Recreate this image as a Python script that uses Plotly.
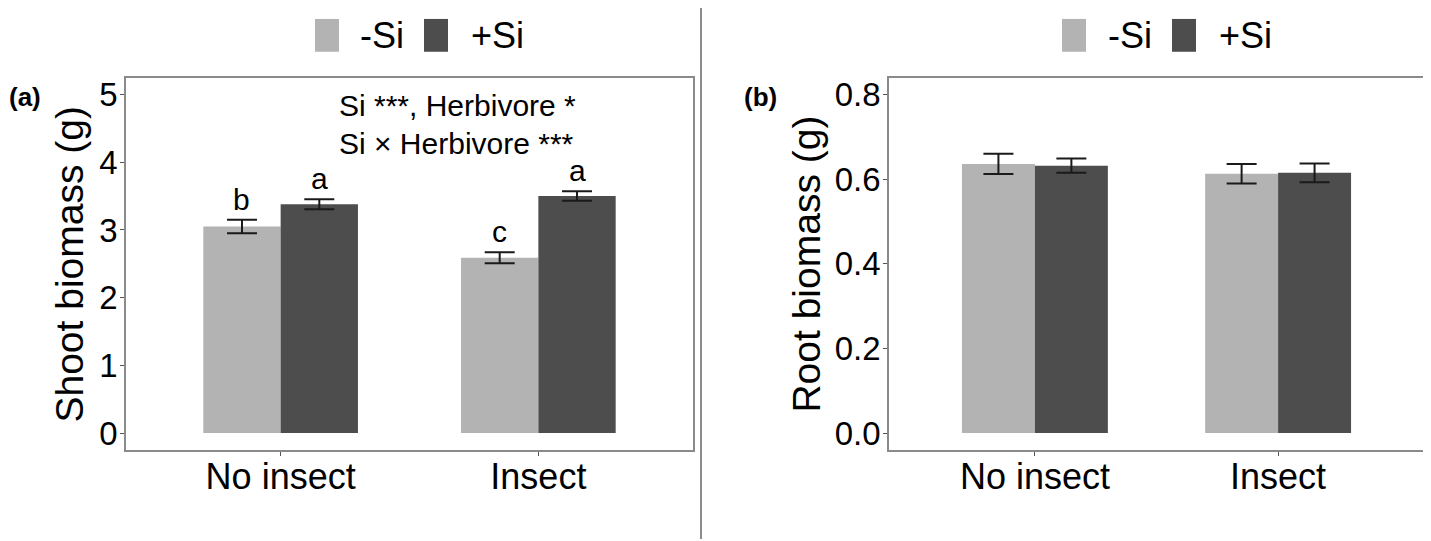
import plotly.graph_objects as go

# data
treatments = ["No insect", "Insect"]
si_levels = ["-Si", "+Si"]

shoot_minus_si = [3.05, 2.59]
shoot_minus_si_se = [0.10, 0.08]
shoot_plus_si = [3.38, 3.50]
shoot_plus_si_se = [0.075, 0.07]
shoot_letters_minus = ["b", "c"]
shoot_letters_plus = ["a", "a"]

root_minus_si = [0.636, 0.613]
root_minus_si_se = [0.024, 0.023]
root_plus_si = [0.632, 0.615]
root_plus_si_se = [0.017, 0.022]

shoot_ticks = [0, 1, 2, 3, 4, 5]
root_ticks = [0.0, 0.2, 0.4, 0.6, 0.8]

stats_lines = ["Si ***, Herbivore *", "Si × Herbivore ***"]

LIGHT = "#b3b3b3"
DARK = "#4d4d4d"
FONT = "Liberation Sans, Arial, sans-serif"
PAGE_W, PAGE_H = 1431, 541
OFF = 8  # default body margin of the html page
W, H = PAGE_W - OFF, PAGE_H - OFF
BAR_OFFSET = 0.15  # half of a 0.3-wide dodged bar


def px_x(px):
    return (px - OFF) / W


def px_y(py):
    return 1 - (py - OFF) / H


def err(arr):
    return dict(type="data", array=arr, color="#1a1a1a", thickness=2, width=15)


fig = go.Figure()

panels = [
    ("x", "y", shoot_minus_si, shoot_minus_si_se, shoot_plus_si, shoot_plus_si_se),
    ("x2", "y2", root_minus_si, root_minus_si_se, root_plus_si, root_plus_si_se),
]
for xa, ya, m_minus, se_minus, m_plus, se_plus in panels:
    fig.add_trace(go.Bar(
        x=treatments, y=m_minus, name=si_levels[0],
        marker=dict(color=LIGHT, line=dict(width=0)),
        error_y=err(se_minus), xaxis=xa, yaxis=ya, showlegend=False,
    ))
    fig.add_trace(go.Bar(
        x=treatments, y=m_plus, name=si_levels[1],
        marker=dict(color=DARK, line=dict(width=0)),
        error_y=err(se_plus), xaxis=xa, yaxis=ya, showlegend=False,
    ))

annotations = []

# significance letters above the error bars of panel (a)
for i in range(len(treatments)):
    annotations.append(dict(
        x=i - BAR_OFFSET, y=shoot_minus_si[i] + shoot_minus_si_se[i],
        xref="x", yref="y", text=shoot_letters_minus[i], showarrow=False,
        yanchor="bottom", yshift=2, font=dict(size=30, color="black", family=FONT),
    ))
    annotations.append(dict(
        x=i + BAR_OFFSET, y=shoot_plus_si[i] + shoot_plus_si_se[i],
        xref="x", yref="y", text=shoot_letters_plus[i], showarrow=False,
        yanchor="bottom", yshift=2, font=dict(size=30, color="black", family=FONT),
    ))

# stats text in panel (a)
for k, line in enumerate(stats_lines):
    annotations.append(dict(
        x=px_x(337), y=px_y(105 + 38 * k), xref="paper", yref="paper",
        text=line, showarrow=False, xanchor="left", yanchor="middle",
        font=dict(size=30, color="black", family=FONT),
    ))

# panel tags and y titles
for tag, tx in [("(a)", 7), ("(b)", 742)]:
    annotations.append(dict(
        x=px_x(tx), y=px_y(96), xref="paper", yref="paper", text=f"<b>{tag}</b>",
        showarrow=False, xanchor="left", yanchor="middle",
        font=dict(size=26, color="black", family=FONT),
    ))
for title, tx in [("Shoot biomass (g)", 70), ("Root biomass (g)", 807)]:
    annotations.append(dict(
        x=px_x(tx), y=px_y(265), xref="paper", yref="paper", text=title,
        showarrow=False, textangle=-90, xanchor="center", yanchor="middle",
        font=dict(size=39, color="black", family=FONT),
    ))

# legends drawn above each panel
shapes = []
for x0s, tx0s in [((315, 424), (358, 469)), ((1062, 1172), (1106, 1217))]:
    for col, sx, tx, lab in zip((LIGHT, DARK), x0s, tx0s, si_levels):
        shapes.append(dict(
            type="rect", xref="paper", yref="paper",
            x0=px_x(sx), x1=px_x(sx + 24), y0=px_y(51), y1=px_y(18),
            fillcolor=col, line=dict(width=0),
        ))
        annotations.append(dict(
            x=px_x(tx), y=px_y(35), xref="paper", yref="paper", text=lab,
            showarrow=False, xanchor="left", yanchor="middle",
            font=dict(size=36, color="black", family=FONT),
        ))

# separator between panels
shapes.append(dict(
    type="line", xref="paper", yref="paper", x0=px_x(701), x1=px_x(701),
    y0=0, y1=px_y(0), line=dict(color="#8c8c8c", width=2),
))

axis_common = dict(
    showline=True, mirror=True, linecolor="#8a8a8a", linewidth=1.5,
    showgrid=False, zeroline=False, ticks="outside", ticklen=4,
    tickwidth=1, tickcolor="#555555",
)
ydom = [px_y(451.5), px_y(77)]

fig.update_layout(
    width=W, height=H,
    margin=dict(l=0, r=0, t=0, b=0),
    paper_bgcolor="white", plot_bgcolor="white",
    barmode="group", bargap=0.4, bargroupgap=0,
    font=dict(family=FONT, color="black"),
    xaxis=dict(domain=[px_x(126), px_x(693)], range=[-0.6, 1.6],
               tickfont=dict(size=36), ticklabelstandoff=-10, **axis_common),
    yaxis=dict(domain=ydom, range=[-0.25, 5.25], tickvals=shoot_ticks,
               tickfont=dict(size=33), ticklabelstandoff=-4, **axis_common),
    xaxis2=dict(domain=[px_x(889), px_x(1424)], range=[-0.6, 1.6], anchor="y2",
                tickfont=dict(size=36), ticklabelstandoff=-10, **axis_common),
    yaxis2=dict(domain=ydom, range=[-0.04, 0.84], tickvals=root_ticks,
                tickformat=".1f", anchor="x2",
                tickfont=dict(size=33), ticklabelstandoff=-4, **axis_common),
    annotations=annotations,
    shapes=shapes,
)

fig.write_html("out.html")
